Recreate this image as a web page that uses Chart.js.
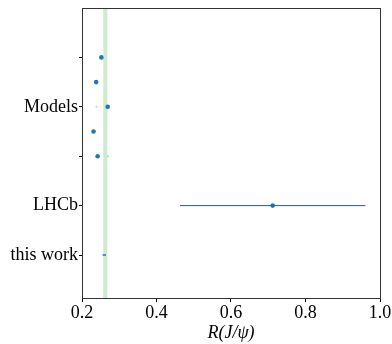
<!DOCTYPE html>
<html>
<head>
<meta charset="utf-8">
<script src="https://cdn.jsdelivr.net/npm/chart.js@4"></script>
<style>
  html, body { margin: 0; padding: 0; background: #fff; }
  #wrap { width: 392px; height: 344px; }
</style>
</head>
<body>
<div id="wrap"><canvas id="myChart" width="392" height="344"></canvas></div>
<script>
// y positions of rows and their labels
const yTicks = [0, 1, 2, 3, 4];
const yLabels = ["this work", "LHCb", "", "Models", ""];

// model predictions
const modelX = [0.242, 0.231, 0.269, 0.238, 0.252];
const modelY = [2, 2.5, 3, 3.5, 4];
// faint secondary markers
const modelAltX = [0.270, 0.239];
const modelAltY = [2, 3];

// LHCb measurement
const lhcbX = [0.712];
const lhcbY = [1];
const lhcbErr = [0.463, 0.961];

// this work
const thisX = [0.2555, 0.2645];
const thisY = [0, 0];

// shaded band of this work
const band = [0.257, 0.268];

const xTicks = [0.2, 0.4, 0.6, 0.8, 1.0];

const serif = "'Liberation Serif', 'DejaVu Serif', serif";

const bandPlugin = {
  id: "band",
  beforeDatasetsDraw(chart) {
    const { ctx, chartArea, scales } = chart;
    const x0 = scales.x.getPixelForValue(band[0]);
    const x1 = scales.x.getPixelForValue(band[1]);
    ctx.save();
    ctx.fillStyle = "rgba(160, 215, 160, 0.5)";
    ctx.fillRect(x0, chartArea.top, x1 - x0, chartArea.bottom - chartArea.top);
    ctx.restore();
  },
  afterDraw(chart) {
    const { ctx, chartArea } = chart;
    ctx.save();
    ctx.strokeStyle = "#333";
    ctx.lineWidth = 1;
    ctx.strokeRect(chartArea.left + 0.5, chartArea.top + 0.5,
      chartArea.right - chartArea.left, chartArea.bottom - chartArea.top);
    ctx.restore();
  },
};

const ctx = document.getElementById("myChart").getContext("2d");
new Chart(ctx, {
  type: "scatter",
  data: {
    datasets: [
      {
        data: lhcbErr.map((x) => ({ x: x, y: lhcbY[0] })),
        showLine: true,
        borderColor: "#1f5f8f",
        borderWidth: 1,
        pointRadius: 0,
      },
      {
        data: thisX.map((x, i) => ({ x: x, y: thisY[i] })),
        showLine: true,
        borderColor: "#1f77b4",
        borderWidth: 1.5,
        pointRadius: 0,
      },
      {
        data: modelAltX.map((x, i) => ({ x: x, y: modelAltY[i] })),
        backgroundColor: "rgba(31,119,180,0.35)",
        borderWidth: 0,
        pointRadius: 1,
      },
      {
        data: modelX.map((x, i) => ({ x: x, y: modelY[i] })),
        backgroundColor: "#1f77b4",
        borderWidth: 0,
        pointRadius: 2.3,
      },
      {
        data: lhcbX.map((x, i) => ({ x: x, y: lhcbY[i] })),
        backgroundColor: "#1f77b4",
        borderWidth: 0,
        pointRadius: 2.3,
      },
    ],
  },
  options: {
    responsive: false,
    animation: false,
    layout: { padding: { top: 8, right: 12, left: 0, bottom: 0 } },
    plugins: {
      legend: { display: false },
      tooltip: { enabled: false },
    },
    scales: {
      x: {
        type: "linear",
        min: 0.2,
        max: 1.0,
        afterBuildTicks: (scale) => {
          scale.ticks = xTicks.map((v) => ({ value: v }));
        },
        afterFit: (scale) => { scale.height = 46; },
        ticks: {
          color: "#000",
          font: { family: serif, size: 18 },
          padding: 0,
          maxRotation: 0,
          callback: (v) => v.toFixed(1),
        },
        grid: { drawOnChartArea: false, drawTicks: true, tickLength: 4, color: "#000" },
        border: { display: false },
        title: {
          display: true,
          text: "R(J/ψ)",
          color: "#000",
          font: { family: serif, size: 18, style: "italic" },
          padding: { top: 0, bottom: 0 },
        },
      },
      y: {
        type: "linear",
        min: -0.87,
        max: 5,
        afterBuildTicks: (scale) => {
          scale.ticks = yTicks.map((v) => ({ value: v }));
        },
        afterFit: (scale) => {
          scale.width = 82;
          scale.paddingTop = 0;
          scale.paddingBottom = 0;
        },
        ticks: {
          color: "#000",
          font: { family: serif, size: 18 },
          padding: 1,
          callback: (v) => yLabels[yTicks.indexOf(v)],
        },
        grid: { drawOnChartArea: false, drawTicks: true, tickLength: 3, color: "#000" },
        border: { display: false },
      },
    },
  },
  plugins: [bandPlugin],
});
</script>
</body>
</html>
